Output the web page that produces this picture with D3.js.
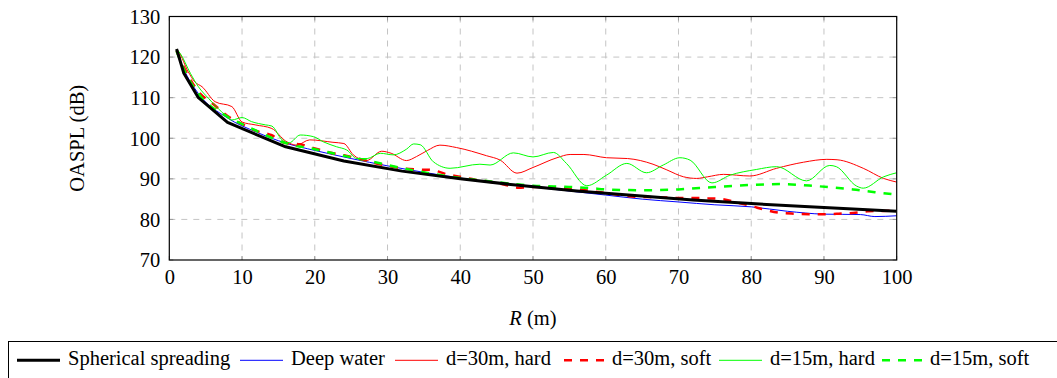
<!DOCTYPE html>
<html>
<head>
<meta charset="utf-8">
<script src="https://cdn.jsdelivr.net/npm/d3@7"></script>
<style>
  body { margin: 0; background: #fff; }
  svg { display: block; }
  text { font-family: "Liberation Serif", "Times New Roman", serif; fill: #000; }
</style>
</head>
<body>
<svg id="chart" width="1057" height="378"></svg>
<script>
// ---- data ----
const xTicks = [0, 10, 20, 30, 40, 50, 60, 70, 80, 90, 100];
const yTicks = [70, 80, 90, 100, 110, 120, 130];

const sphericalR = [1, 2, 4, 8, 16, 24, 32, 40, 48, 56, 64, 72, 80, 88, 96, 100];
const sphericalL = [122, 116, 110, 103.9, 97.9, 94.4, 91.9, 90, 88.4, 87, 85.9, 84.8, 83.9, 83.1, 82.4, 82];

const deepR = [1, 2, 4, 8, 12, 16, 20, 25, 30, 35, 40, 45, 50, 55, 60, 65, 70, 75, 80, 85, 90, 95, 97, 100];
const deepL = [121.5, 117, 111, 105, 101.5, 98.8, 97, 95, 93.2, 91.6, 90.2, 89, 88, 87, 86, 85, 84.3, 83.6, 83.1, 82, 81.3, 81.2, 80.7, 80.9];

const hard30R = [1, 1.3, 2.6, 3.5, 4.5, 6.3, 8.6, 10, 11.8, 14.1, 16, 17.5, 19.3, 22.5, 24, 25.3, 27.1, 29.2, 30.5, 32.6, 34, 35.5, 37.2, 39.5, 43.6, 45.5, 47.8, 50, 53.3, 55.1, 57, 60.1, 63, 66.5, 68.4, 70.7, 72.5, 74, 76.2, 79.8, 83.5, 87.2, 90.4, 91.8, 95.4, 98.2, 100];
const hard30L = [122, 121.3, 116.4, 113.9, 112.7, 109, 107.8, 104, 103.3, 102.4, 99.3, 98.3, 99.6, 99, 98.7, 95.9, 94.5, 96.8, 96.3, 94.5, 95.5, 97, 98.3, 97.7, 95.7, 94.6, 91.4, 92.8, 95.2, 96, 96, 95.2, 95, 93.6, 92.2, 90.5, 90.1, 90.5, 91.1, 90.7, 92.6, 94.1, 94.8, 94.7, 92.6, 90.1, 89.2];

const soft30R = [1, 2, 4, 6, 8, 10, 12, 14, 16, 18, 20, 22, 24, 26, 28, 30, 32, 34, 36, 38, 40, 42, 44, 46, 48, 50, 52, 54, 56, 58, 60, 62, 64, 66, 68, 70, 72, 74, 76, 78, 80, 82, 84, 86, 88, 90, 92, 94, 96, 98, 100];
const soft30L = [121.5, 117.5, 111.5, 108.5, 105.5, 103.5, 101.8, 100.8, 98.8, 98.5, 97.5, 96.5, 95.8, 95, 94, 93.2, 92.6, 92.3, 92.2, 91.2, 90.5, 89.8, 89.3, 88.6, 87.8, 88, 87.9, 87.8, 87.4, 87, 86.5, 86, 85.6, 85.5, 85.4, 85.3, 85.3, 85.2, 85, 84.2, 83.3, 82.3, 81.6, 81.4, 81.3, 81.3, 81.4, 81.6, 82, 82.1, 82.2];

const hard15R = [1, 1.5, 2.9, 4, 5.4, 7.2, 8.6, 10, 11.3, 13.2, 14.1, 15.5, 16.5, 18, 19.8, 21.2, 23, 24.4, 25.8, 27.2, 29, 30.8, 32.6, 33.6, 34.5, 36.3, 38.6, 42.7, 44.1, 47.3, 50, 52.8, 54.6, 57.4, 60.1, 62.9, 65.6, 67.9, 70.2, 71.6, 74.6, 77.1, 80.7, 83.5, 87.6, 90.8, 91.7, 94.5, 95.4, 98.2, 100];
const hard15L = [122, 120.9, 116, 112.7, 109.8, 106.5, 104.5, 105.1, 104.1, 103.3, 103, 99.6, 98.9, 100.8, 100.4, 99.1, 97.9, 97.1, 95, 95, 96.3, 95.9, 97.3, 98.6, 98.4, 94.2, 92.6, 93.6, 93.4, 96.4, 95.4, 96.5, 93.8, 88.3, 90.9, 93.8, 91.5, 93.4, 95.2, 94.6, 89, 90.9, 92.3, 93, 89.5, 93.3, 93, 88.2, 87.7, 90.5, 91.5];

const soft15R = [1, 2, 4, 8, 10, 12, 16, 20, 24, 28, 30, 35, 40, 45, 50, 55, 58, 60, 65, 70, 75, 80, 84, 89, 94, 97, 100];
const soft15L = [121.5, 117, 111, 105.3, 103.5, 101.8, 98.8, 97.3, 95.7, 94.2, 93.4, 91.6, 90.2, 89.2, 88.3, 88, 87.7, 87.4, 87.2, 87.4, 88, 88.5, 88.7, 88.2, 87.4, 86.7, 86.1];

const seriesNames = ["Spherical spreading", "Deep water", "d=30m, hard", "d=30m, soft", "d=15m, hard", "d=15m, soft"];

const series = [
  { name: seriesNames[0], R: sphericalR, L: sphericalL, color: "#000000", width: 3, dash: null, smooth: false },
  { name: seriesNames[1], R: deepR, L: deepL, color: "#0000ff", width: 1, dash: null, smooth: true },
  { name: seriesNames[2], R: hard30R, L: hard30L, color: "#ff0000", width: 1, dash: null, smooth: true },
  { name: seriesNames[3], R: soft30R, L: soft30L, color: "#ff0000", width: 2.5, dash: "8,8", smooth: true },
  { name: seriesNames[4], R: hard15R, L: hard15L, color: "#00ff00", width: 1, dash: null, smooth: true },
  { name: seriesNames[5], R: soft15R, L: soft15L, color: "#00ff00", width: 2.5, dash: "8,8", smooth: true }
];

// ---- layout ----
const svg = d3.select("#chart");
const pL = 169.3, pR = 896.7, pT = 16.5, pB = 260;
const x = d3.scaleLinear().domain([0, 100]).range([pL, pR]);
const y = d3.scaleLinear().domain([70, 130]).range([pB, pT]);
const fs = 20.5;

// grid
const grid = svg.append("g");
grid.selectAll("line.gx").data(xTicks.slice(1, -1)).join("line")
  .attr("x1", d => x(d)).attr("x2", d => x(d)).attr("y1", pT).attr("y2", pB)
  .attr("stroke", "#c4c4c4").attr("stroke-width", 1).attr("stroke-dasharray", "6,6");
grid.selectAll("line.gy").data(yTicks.slice(1, -1)).join("line")
  .attr("x1", pL).attr("x2", pR).attr("y1", d => y(d)).attr("y2", d => y(d))
  .attr("stroke", "#c4c4c4").attr("stroke-width", 1).attr("stroke-dasharray", "6,6");

// inner ticks (gray)
const tk = svg.append("g").attr("stroke", "#999").attr("stroke-width", 1);
xTicks.forEach(d => {
  tk.append("line").attr("x1", x(d)).attr("x2", x(d)).attr("y1", pB).attr("y2", pB - 4);
  tk.append("line").attr("x1", x(d)).attr("x2", x(d)).attr("y1", pT).attr("y2", pT + 4);
});
yTicks.forEach(d => {
  tk.append("line").attr("x1", pL).attr("x2", pL + 4).attr("y1", y(d)).attr("y2", y(d));
  tk.append("line").attr("x1", pR).attr("x2", pR - 4).attr("y1", y(d)).attr("y2", y(d));
});

// data lines
svg.append("clipPath").attr("id", "clip").append("rect")
  .attr("x", pL).attr("y", pT).attr("width", pR - pL).attr("height", pB - pT);
const lineSmooth = d3.line().x(d => x(d[0])).y(d => y(d[1])).curve(d3.curveMonotoneX);
const lineStraight = d3.line().x(d => x(d[0])).y(d => y(d[1]));
const order = [1, 3, 5, 2, 4, 0];
order.forEach(i => {
  const s = series[i];
  const pts = s.R.map((r, k) => [r, s.L[k]]);
  svg.append("path").datum(pts)
    .attr("d", s.smooth ? lineSmooth : lineStraight)
    .attr("fill", "none")
    .attr("stroke", s.color)
    .attr("stroke-width", s.width)
    .attr("stroke-dasharray", s.dash)
    .attr("stroke-linejoin", "round")
    .attr("clip-path", "url(#clip)");
});

// frame
svg.append("rect").attr("x", pL).attr("y", pT).attr("width", pR - pL).attr("height", pB - pT)
  .attr("fill", "none").attr("stroke", "#000").attr("stroke-width", 1.2);

// axes labels via d3 axes (no domain/tick lines)
const xAxis = svg.append("g").attr("transform", `translate(0,${pB})`)
  .call(d3.axisBottom(x).tickValues(xTicks).tickSize(0).tickPadding(0));
xAxis.select(".domain").remove();
xAxis.selectAll("text").attr("font-size", fs).attr("dy", null).attr("y", 24)
  .style("font-family", "Liberation Serif");

const yAxis = svg.append("g").attr("transform", `translate(${pL},0)`)
  .call(d3.axisLeft(y).tickValues(yTicks).tickSize(0).tickPadding(0));
yAxis.select(".domain").remove();
yAxis.selectAll("text").attr("font-size", fs).attr("x", -9).attr("dy", "0.33em")
  .style("font-family", "Liberation Serif");

// axis titles
const xt = svg.append("text").attr("x", 533).attr("y", 325).attr("text-anchor", "middle").attr("font-size", fs);
xt.append("tspan").attr("font-style", "italic").text("R");
xt.append("tspan").text(" (m)");

svg.append("text").attr("transform", `translate(84,${(pT + pB) / 2}) rotate(-90)`)
  .attr("text-anchor", "middle").attr("font-size", fs).text("OASPL (dB)");

// legend
const lg = svg.append("g");
lg.append("rect").attr("x", 8.5).attr("y", 341.5).attr("width", 1100).attr("height", 60)
  .attr("fill", "#fff").attr("stroke", "#000").attr("stroke-width", 1);
const legendX = [17, 240, 395, 564, 719, 882];
const ly = 360.3;
series.forEach((s, i) => {
  const x0 = legendX[i];
  lg.append("line").attr("x1", x0).attr("x2", x0 + (s.dash ? 40 : 43)).attr("y1", ly).attr("y2", ly)
    .attr("stroke", s.color).attr("stroke-width", s.width).attr("stroke-dasharray", s.dash);
  lg.append("text").attr("x", x0 + (s.dash ? 48 : 51)).attr("y", 364.5).attr("font-size", fs).text(s.name);
});
</script>
</body>
</html>
